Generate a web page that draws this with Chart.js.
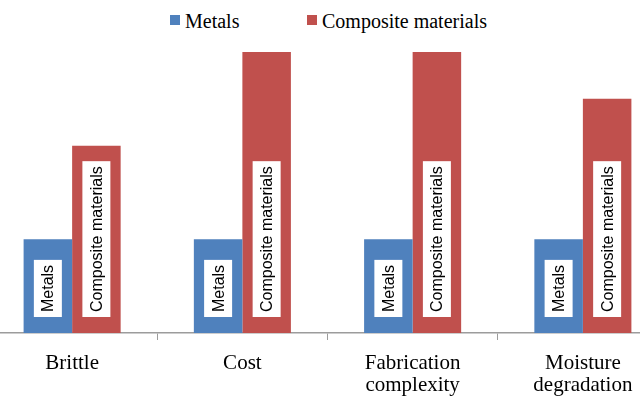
<!DOCTYPE html>
<html>
<head>
<meta charset="utf-8">
<script src="https://cdn.jsdelivr.net/npm/chart.js@4/dist/chart.umd.min.js"></script>
<style>
  html, body { margin: 0; padding: 0; background: #fff; overflow: hidden; }
  body { width: 640px; height: 399px; position: relative; }
  #wrap { position: absolute; left: -20px; top: 0; width: 700px; height: 399px; }
  .legend { position: absolute; top: 9px; font-family: "Liberation Serif", "Times New Roman", serif; font-size: 20px; color: #000; line-height: 24px; white-space: nowrap; }
  .legend .sw { position: absolute; top: 6px; width: 10px; height: 10px; }
  .legend .tx { position: absolute; left: 15px; top: 0; }
</style>
</head>
<body>
<div class="legend" id="lg0" style="left:170px"><span class="sw" style="background:#4F81BD"></span><span class="tx">Metals</span></div>
<div class="legend" id="lg1" style="left:307px"><span class="sw" style="background:#C0504D"></span><span class="tx">Composite materials</span></div>
<div id="wrap"><canvas id="c"></canvas></div>
<script>
// Property comparison: metals vs composite materials
const categories = ['Brittle', 'Cost', ['Fabrication', 'complexity'], ['Moisture', 'degradation']];
const seriesNames = ['Metals', 'Composite materials'];
const metalsValues = [1, 1, 1, 1];
const compositeValues = [2, 3, 3, 2.5];
const seriesColors = ['#4F81BD', '#C0504D'];

// Writes each series name, rotated, in a white box sitting near the base of its bar
const insideBaseLabels = {
  id: 'insideBaseLabels',
  afterDatasetsDraw(chart) {
    const ctx = chart.ctx;
    ctx.save();
    ctx.font = '16px "Liberation Sans", Arial, sans-serif';
    chart.data.datasets.forEach((ds, di) => {
      const meta = chart.getDatasetMeta(di);
      meta.data.forEach(bar => {
        const text = ds.label;
        const tw = ctx.measureText(text).width;
        const boxH = tw + 10;
        const boxW = 28;
        const bottom = bar.base - 16;
        ctx.fillStyle = '#ffffff';
        ctx.fillRect(bar.x - boxW / 2, bottom - boxH, boxW, boxH);
        ctx.save();
        ctx.translate(bar.x, bottom - boxH / 2);
        ctx.rotate(-Math.PI / 2);
        ctx.fillStyle = '#000000';
        ctx.textAlign = 'center';
        ctx.textBaseline = 'middle';
        ctx.fillText(text, 0, 1);
        ctx.restore();
      });
    });
    ctx.restore();
  }
};

new Chart(document.getElementById('c'), {
  type: 'bar',
  data: {
    labels: categories,
    datasets: [
      { label: seriesNames[0], data: metalsValues, backgroundColor: seriesColors[0] },
      { label: seriesNames[1], data: compositeValues, backgroundColor: seriesColors[1] }
    ]
  },
  options: {
    responsive: true,
    maintainAspectRatio: false,
    animation: false,
    devicePixelRatio: 1,
    layout: { padding: { left: 7, right: 12, top: 52, bottom: 0 } },
    datasets: { bar: { barPercentage: 1, categoryPercentage: 0.57 } },
    plugins: { legend: { display: false }, tooltip: { enabled: false } },
    scales: {
      y: { display: false, min: 0, max: 3 },
      x: {
        afterFit(scale) { scale.height = 66; },
        border: { display: true, color: '#9c9c9c', width: 1.5 },
        grid: { display: true, drawOnChartArea: false, drawTicks: true, tickLength: 7, color: '#9c9c9c', lineWidth: 1 },
        ticks: {
          color: '#000',
          padding: 13,
          font: { family: '"Liberation Serif", "Times New Roman", serif', size: 21, lineHeight: 1.03 }
        }
      }
    }
  },
  plugins: [insideBaseLabels]
});
</script>
</body>
</html>
